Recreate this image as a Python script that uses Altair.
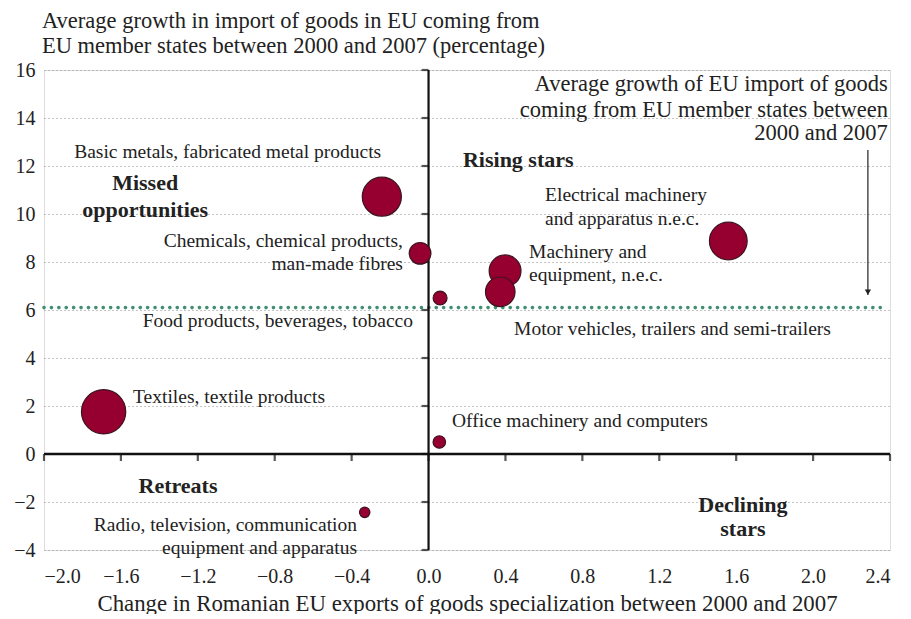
import altair as alt
import pandas as pd

FONT = "Liberation Serif"

# Bubbles
sectors = ["Textiles, textile products", "Basic metals, fabricated metal products",
           "Chemicals, chemical products, man-made fibres", "Food products, beverages, tobacco",
           "Machinery and equipment, n.e.c.", "Motor vehicles, trailers and semi-trailers",
           "Electrical machinery and apparatus n.e.c.", "Office machinery and computers",
           "Radio, television, communication equipment and apparatus"]
x_change = [-1.69, -0.243, -0.044, 0.06, 0.398, 0.373, 1.559, 0.056, -0.332]
y_growth = [1.76, 10.72, 8.36, 6.5, 7.63, 6.76, 8.875, 0.5, -2.43]
weight = [650, 506, 156, 64, 335, 289, 471, 52, 36]

# Axis ticks
x_ticks = [-2.0, -1.6, -1.2, -0.8, -0.4, 0.0, 0.4, 0.8, 1.2, 1.6, 2.0, 2.4]
y_ticks = [-4, -2, 0, 2, 4, 6, 8, 10, 12, 14, 16]
eu_avg = 6.1
eu_avg_end = 2.36

# Annotations
note_text = ["Average growth of EU import of goods", "coming from EU member states between", "2000 and 2007"]
note_x = [2.389, 2.389, 2.389]
note_y = [15.42, 14.34, 13.38]

ann_text = ["Basic metals, fabricated metal products",
            "Chemicals, chemical products,", "man-made fibres",
            "Food products, beverages, tobacco",
            "Electrical machinery", "and apparatus n.e.c.",
            "Machinery and", "equipment, n.e.c.",
            "Motor vehicles, trailers and semi-trailers",
            "Textiles, textile products",
            "Office machinery and computers",
            "Radio, television, communication", "equipment and apparatus"]
ann_x = [-1.843, -0.133, -0.133, -0.081, 0.606, 0.606, 0.523, 0.523,
         0.445, -1.537, 0.122, -0.372, -0.372]
ann_y = [12.58, 8.875, 7.92, 5.54, 10.79, 9.79, 8.42, 7.46, 5.21, 2.375,
         1.375, -2.96, -3.92]
ann_align = ["left", "right", "right", "right", "left", "left",
             "left", "left", "left", "left", "left", "right", "right"]

quad_text = ["Rising stars", "Missed", "opportunities", "Retreats", "Declining", "stars"]
quad_x = [0.179, -1.474, -1.474, -1.303, 1.635, 1.635]
quad_y = [12.25, 11.29, 10.17, -1.33, -2.125, -3.125]
quad_align = ["left", "center", "center", "center", "center", "center"]

arrow_x = [2.285]
arrow_top = [12.67]
arrow_bottom = [6.62]

xs = alt.Scale(domain=[-2.0, 2.4], nice=False, zero=False)
ys = alt.Scale(domain=[-4, 16], nice=False, zero=False)

bub = pd.DataFrame({"sector": sectors, "x": x_change, "y": y_growth, "w": weight})
note = pd.DataFrame({"t": note_text, "x": note_x, "y": note_y, "a": ["right"] * 3})
ann = pd.DataFrame({"t": ann_text, "x": ann_x, "y": ann_y, "a": ann_align})
quad = pd.DataFrame({"t": quad_text, "x": quad_x, "y": quad_y, "a": quad_align})
xt = pd.DataFrame({"x": x_ticks, "y": [0] * len(x_ticks)})
yt = pd.DataFrame({"y": y_ticks, "x": [0] * len(y_ticks)})

base_axes = alt.Chart(pd.DataFrame({"x": [-2.0], "y": [-4]})).mark_point(opacity=0).encode(
    x=alt.X("x:Q", scale=xs, axis=alt.Axis(
        values=x_ticks, format=".1f", title="Change in Romanian EU exports of goods specialization between 2000 and 2007",
        domain=False, ticks=False, grid=False, labelFont=FONT, labelFontSize=20, labelColor="#222",
        labelPadding=16, titleFont=FONT, titleFontSize=22.8, titleFontWeight="normal", titleColor="#222",
        titlePadding=6)),
    y=alt.Y("y:Q", scale=ys, axis=alt.Axis(
        values=y_ticks, format="d", title=None, domain=False, ticks=False, grid=True,
        gridColor="#8a8a8a", gridDash=[1, 3], gridWidth=1, labelFont=FONT, labelFontSize=20,
        labelColor="#222", labelPadding=9)),
)

green = alt.Chart(pd.DataFrame({"x": [-2.0], "x2": [eu_avg_end], "y": [eu_avg]})).mark_rule(
    color="#3f8f70", strokeWidth=3.6, strokeDash=[0.1, 7.3], strokeCap="round").encode(
    x=alt.X("x:Q", scale=xs), x2="x2:Q", y=alt.Y("y:Q", scale=ys))

vline = alt.Chart(pd.DataFrame({"x": [0], "y": [-4], "y2": [16]})).mark_rule(
    color="#111", strokeWidth=2.2).encode(x=alt.X("x:Q", scale=xs), y=alt.Y("y:Q", scale=ys), y2="y2:Q")
hline = alt.Chart(pd.DataFrame({"x": [-2.0], "x2": [2.4], "y": [0]})).mark_rule(
    color="#111", strokeWidth=2.5).encode(x=alt.X("x:Q", scale=xs), x2="x2:Q", y=alt.Y("y:Q", scale=ys))

xtick = alt.Chart(xt).mark_tick(orient="vertical", size=7, thickness=2.2, color="#111", yOffset=3.5).encode(
    x=alt.X("x:Q", scale=xs), y=alt.Y("y:Q", scale=ys))
ytick = alt.Chart(yt).mark_tick(orient="horizontal", size=7, thickness=2.2, color="#111", xOffset=-3.5).encode(
    x=alt.X("x:Q", scale=xs), y=alt.Y("y:Q", scale=ys))

bubbles = alt.Chart(bub).mark_circle(color="#960030", stroke="#3a1420", strokeWidth=1.2, opacity=1).encode(
    x=alt.X("x:Q", scale=xs), y=alt.Y("y:Q", scale=ys),
    size=alt.Size("w:Q", scale=alt.Scale(type="linear", zero=True, domain=[0, 650], range=[0, 1963]), legend=None),
)

arrow_df = pd.DataFrame({"x": arrow_x, "y": arrow_top, "y2": arrow_bottom})
arrow_line = alt.Chart(arrow_df).mark_rule(color="#222", strokeWidth=1.2).encode(
    x=alt.X("x:Q", scale=xs), y=alt.Y("y:Q", scale=ys), y2="y2:Q")
arrow_head = alt.Chart(arrow_df).mark_point(shape="triangle-down", filled=True, color="#222", size=40,
                                            yOffset=-3, opacity=1).encode(
    x=alt.X("x:Q", scale=xs), y=alt.Y("y2:Q", scale=ys))

def text_layer(df, align, bold, size):
    return alt.Chart(df[df["a"] == align]).mark_text(
        font=FONT, fontSize=size, fontWeight="bold" if bold else "normal", color="#222",
        align=align, baseline="middle").encode(
        x=alt.X("x:Q", scale=xs), y=alt.Y("y:Q", scale=ys), text="t:N")

texts = [text_layer(ann, a, False, 19.5) for a in ["left", "right"]]
texts += [text_layer(note, "right", False, 22.5)]
texts += [text_layer(quad, a, True, 22) for a in ["left", "center"]]

chart = alt.layer(base_axes, green, vline, hline, xtick, ytick, bubbles, arrow_line, arrow_head, *texts).properties(
    width=846, height=480,
    title=alt.TitleParams(
        text=["Average growth in import of goods in EU coming from",
              "EU member states between 2000 and 2007 (percentage)"],
        anchor="start", frame="group", font=FONT, fontSize=22.5, fontWeight="normal", color="#222",
        lineHeight=25, offset=3, dx=-2),
    autosize=alt.AutoSizeParams(type="none"),
    padding={"left": 36, "top": 62, "right": 13, "bottom": 64},
).configure_view(stroke=None).configure(background="white")

chart.save("out.html", embed_options={"renderer": "svg", "actions": False})
